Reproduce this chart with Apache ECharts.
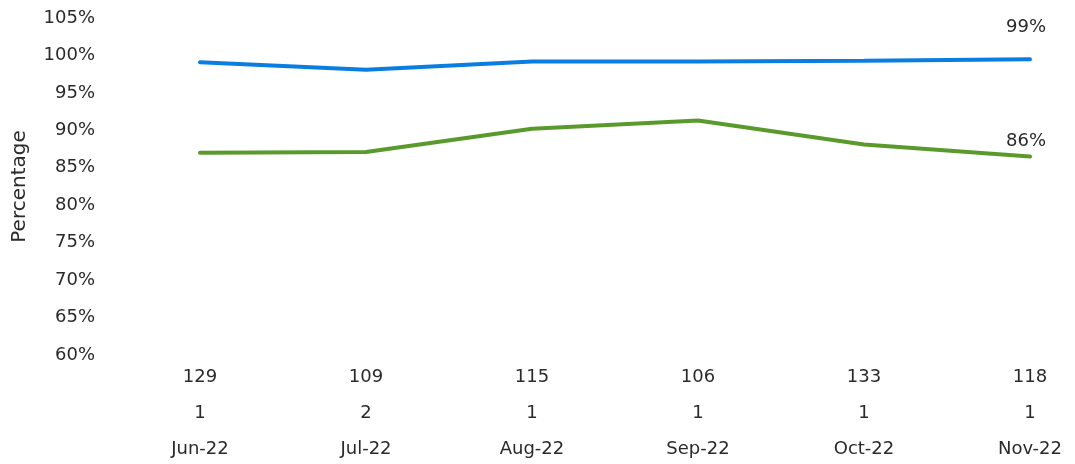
<!DOCTYPE html>
<html>
<head>
<meta charset="utf-8">
<script src="https://cdn.jsdelivr.net/npm/echarts@6/dist/echarts.min.js"></script>
<style>
  html, body { margin: 0; padding: 0; background: #fff; }
  #chart { width: 1075px; height: 464px; }
</style>
</head>
<body>
<div id="chart"></div>
<script>
// 数据
var months = ['Jun-22', 'Jul-22', 'Aug-22', 'Sep-22', 'Oct-22', 'Nov-22'];
var counts = [129, 109, 115, 106, 133, 118];
var seconds = [1, 2, 1, 1, 1, 1];
var blueVals = [99.1, 98.1, 99.2, 99.2, 99.3, 99.5];
var greenVals = [87.0, 87.1, 90.2, 91.3, 88.1, 86.5];
var blueEndLabel = '99%';
var greenEndLabel = '86%';

var font = 'DejaVu Sans';
var txt = '#2a2a2a';

var myChart = echarts.init(document.getElementById('chart'));
var option = {
  backgroundColor: '#fff',
  animation: false,
  grid: { left: 200, right: 45, top: 18, bottom: 109, outerBoundsMode: 'none', containLabel: false },
  xAxis: {
    type: 'category',
    boundaryGap: false,
    data: months,
    axisLine: { show: false },
    axisTick: { show: false },
    axisLabel: {
      margin: 4,
      color: txt,
      fontSize: 18,
      fontFamily: font,
      lineHeight: 36,
      formatter: function (v, i) {
        return counts[i] + '\n' + seconds[i] + '\n' + v;
      }
    }
  },
  yAxis: {
    type: 'value',
    min: 60, max: 105, interval: 5,
    name: 'Percentage',
    nameLocation: 'middle',
    nameGap: 170,
    nameTextStyle: { color: txt, fontSize: 20, fontFamily: font },
    splitLine: { show: false },
    axisLine: { show: false },
    axisTick: { show: false },
    axisLabel: {
      margin: 105,
      color: txt,
      fontSize: 18,
      fontFamily: font,
      formatter: '{value}%'
    }
  },
  series: [
    {
      type: 'line',
      data: blueVals,
      symbol: 'none',
      lineStyle: { color: '#0a7ee0', width: 4, cap: 'round' },
      endLabel: {
        show: true, formatter: blueEndLabel, align: 'center', distance: 0,
        offset: [-4, -32], color: txt, fontSize: 18, fontFamily: font
      }
    },
    {
      type: 'line',
      data: greenVals,
      symbol: 'none',
      lineStyle: { color: '#5a9a2c', width: 4, cap: 'round' },
      endLabel: {
        show: true, formatter: greenEndLabel, align: 'center', distance: 0,
        offset: [-4, -15], color: txt, fontSize: 18, fontFamily: font
      }
    }
  ]
};
myChart.setOption(option, true);
</script>
</body>
</html>
